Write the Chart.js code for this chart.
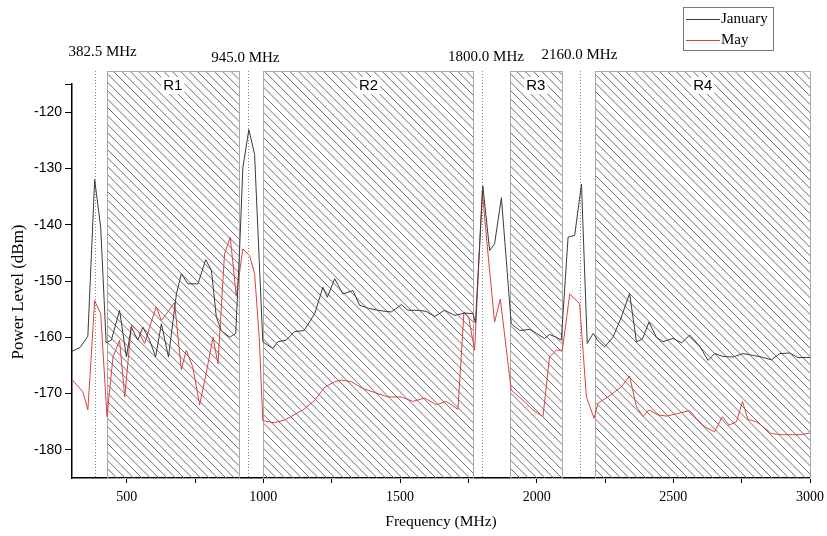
<!DOCTYPE html>
<html>
<head>
<meta charset="utf-8">
<script src="https://cdn.jsdelivr.net/npm/chart.js@4.4.1/dist/chart.umd.min.js"></script>
<style>
  html, body { margin: 0; padding: 0; background: #fff; }
  #wrap { width: 827px; height: 536px; }
</style>
</head>
<body>
<div id="wrap"><canvas id="c" width="827" height="536"></canvas></div>
<script>
// ---------- data ----------
const seriesNames = ['January', 'May'];

const janFreq = [300, 330, 358, 383, 405, 425, 444, 474, 499, 517, 541, 559, 584, 606, 627, 653, 682, 700, 724, 761, 789, 810, 828, 846, 877, 899, 913, 925, 947, 968, 998,
  1035, 1053, 1084, 1114, 1149, 1188, 1218, 1234, 1261, 1291, 1328, 1352, 1389, 1432, 1468, 1505, 1529, 1566, 1596, 1627, 1663, 1700, 1737, 1767, 1776,
  1803, 1828, 1846, 1871, 1907, 1938, 1975, 1999, 2029, 2047, 2072, 2090, 2115, 2139, 2164, 2185, 2207, 2224, 2249, 2279, 2310, 2340, 2365, 2387, 2411,
  2438, 2462, 2499, 2530, 2560, 2597, 2627, 2651, 2682, 2718, 2755, 2791, 2822, 2859, 2889, 2926, 2956, 3000];
const janLevel = [-162.5, -161.8, -159.8, -132, -140.5, -161, -160.5, -155.2, -163.5, -158.2, -160.5, -158.2, -160.5, -163.5, -157.6, -163.5, -152.3, -148.7, -150.5, -150.5, -146.2, -148.1, -156.4, -158.8, -160, -159.3, -144.6, -129.9, -123.1, -127.5, -160.8,
  -162, -160.8, -160.5, -159, -158.8, -155.8, -151.1, -152.9, -149.6, -152.3, -151.7, -154.3, -154.9, -155.3, -155.5, -154.2, -155.2, -155.2, -155.4, -156.3, -155.2, -156.1, -155.7, -155.8, -157.5,
  -133.1, -144.6, -143.4, -135.2, -157.6, -158.8, -158.6, -159.3, -160.2, -159.5, -160, -160.5, -142.2, -141.9, -132.8, -161.1, -159.3, -160.6, -161.7, -160, -156.4, -152.2, -160.8, -160.3, -157.3,
  -160, -160.8, -160.2, -161, -159.6, -161.6, -164.1, -162.9, -163.4, -163.5, -162.9, -163.2, -163.5, -164, -162.9, -162.8, -163.6, -163.6];

const mayFreq = [300, 340, 358, 383, 405, 428, 450, 474, 493, 517, 541, 566, 584, 608, 627, 655, 675, 700, 718, 742, 767, 791, 816, 834, 858, 879, 901, 925, 950, 968, 985, 998,
  1040, 1078, 1145, 1188, 1224, 1261, 1285, 1322, 1364, 1413, 1456, 1505, 1547, 1590, 1633, 1669, 1712, 1734, 1751, 1773,
  1801, 1822, 1846, 1867, 1907, 1950, 1986, 2023, 2047, 2072, 2094, 2121, 2157, 2182, 2210, 2224, 2261, 2285, 2310, 2340, 2365, 2389, 2411, 2444, 2475,
  2511, 2560, 2584, 2615, 2651, 2679, 2704, 2731, 2753, 2773, 2804, 2828, 2859, 2895, 2938, 2969, 3000];
const mayLevel = [-167.5, -169.7, -172.9, -153.5, -155.8, -174.1, -163.5, -160.5, -170.6, -157.9, -158.8, -161.1, -158.2, -154.6, -157, -155.2, -153.8, -165.8, -162.3, -165.3, -172, -166.4, -160, -164.7, -145.2, -142.2, -152.7, -144.3, -145.5, -148.7, -160, -174.8,
  -175.2, -174.7, -172.9, -171.2, -168.9, -167.9, -167.6, -167.9, -169.1, -169.9, -170.6, -170.6, -171.4, -170.8, -172, -171.4, -172.8, -155.5, -156.4, -162.3,
  -134, -145.2, -157.3, -153.2, -169.4, -171.2, -172.9, -174.1, -163.5, -162.3, -162.3, -152.3, -154, -170.6, -174.4, -171.7, -170.6, -169.7, -168.8, -166.9, -172.3, -174.1, -172.9, -173.8, -174,
  -173.6, -173, -174.4, -175.9, -176.8, -174.1, -175.6, -175, -171.4, -174.6, -175, -175.9, -177.1, -177.3, -177.3, -177.3, -177];

const regionLabels = ['R1', 'R2', 'R3', 'R4'];
const regionStart = [428, 1000, 1902, 2215];
const regionEnd = [910, 1770, 2092, 3000];

const markerFreq = [382.5, 945.0, 1800.0, 2160.0];
const markerLabels = ['382.5 MHz', '945.0 MHz', '1800.0 MHz', '2160.0 MHz'];

const xTicks = [500, 750, 1000, 1250, 1500, 1750, 2000, 2250, 2500, 2750, 3000];
const yTicks = [-180, -170, -160, -150, -140, -130, -120, -115];

const xTitle = 'Frequency (MHz)';
const yTitle = 'Power Level (dBm)';

// ---------- style ----------
const SERIF = '"Liberation Serif", "Times New Roman", serif';
const SANS = '"Liberation Sans", Arial, sans-serif';
const janColor = '#3a3a3a';
const mayColor = '#d94242';
const markerLabelDx = [8, -3, 4, -1];
const markerLabelDy = [-32, -26, -27, -29];

function pts(xs, ys) { return xs.map((x, i) => ({ x: x, y: ys[i] })); }

const overlayPlugin = {
  id: 'overlay',
  beforeDatasetsDraw(chart) {
    const ctx = chart.ctx;
    const xs = chart.scales.x;
    const ca = chart.chartArea;
    const top = ca.top - 13;
    const bottom = ca.bottom;
    const sp = 8.4;
    ctx.save();
    regionStart.forEach((s, i) => {
      const xl = xs.getPixelForValue(s);
      const xr = xs.getPixelForValue(regionEnd[i]);
      ctx.save();
      ctx.beginPath();
      ctx.rect(xl, top, xr - xl, bottom - top);
      ctx.clip();
      ctx.strokeStyle = '#6e6e6e';
      ctx.lineWidth = 1;
      ctx.beginPath();
      const h = bottom - top;
      const k0 = Math.floor((xl - top - h) / sp) * sp;
      for (let k = k0; k < xr - top + sp; k += sp) {
        ctx.moveTo(k + top, top);
        ctx.lineTo(k + bottom, bottom);
      }
      ctx.stroke();
      ctx.restore();
      ctx.strokeStyle = '#a8a8a8';
      ctx.lineWidth = 1;
      ctx.strokeRect(Math.round(xl) + 0.5, Math.round(top) + 0.5, Math.round(xr - xl), Math.round(bottom - top));
      ctx.fillStyle = '#ffffff';
      const cx = (xl + xr) / 2;
      ctx.font = '15px ' + SANS;
      const tw = ctx.measureText(regionLabels[i]).width;
      ctx.fillRect(cx - tw / 2 - 2, top + 6, tw + 4, 17);
      ctx.fillStyle = '#000';
      ctx.textAlign = 'center';
      ctx.textBaseline = 'middle';
      ctx.fillText(regionLabels[i], cx, top + 15);
    });
    ctx.strokeStyle = '#8a8a8a';
    ctx.lineWidth = 1;
    ctx.setLineDash([1, 2]);
    markerFreq.forEach((f) => {
      const x = Math.round(xs.getPixelForValue(f)) + 0.5;
      ctx.beginPath();
      ctx.moveTo(x, top);
      ctx.lineTo(x, bottom);
      ctx.stroke();
    });
    ctx.setLineDash([]);
    ctx.fillStyle = '#000';
    ctx.font = '15px ' + SERIF;
    ctx.textAlign = 'center';
    ctx.textBaseline = 'middle';
    markerFreq.forEach((f, i) => {
      const x = xs.getPixelForValue(f);
      ctx.fillText(markerLabels[i], x + markerLabelDx[i], ca.top + markerLabelDy[i]);
    });
    // y axis title
    ctx.save();
    ctx.translate(19, (ca.top + ca.bottom) / 2 + 11);
    ctx.rotate(-Math.PI / 2);
    ctx.font = '17px ' + SERIF;
    ctx.fillText(yTitle, 0, 0);
    ctx.restore();
    ctx.restore();
  },
  afterDraw(chart) {
    const ctx = chart.ctx;
    ctx.save();
    const bx = 683, by = 7, bw = 90, bh = 43;
    ctx.fillStyle = '#fff';
    ctx.fillRect(bx, by, bw, bh);
    ctx.strokeStyle = '#777';
    ctx.lineWidth = 1;
    ctx.strokeRect(bx + 0.5, by + 0.5, bw, bh);
    const colors = [janColor, mayColor];
    ctx.font = '15px ' + SERIF;
    ctx.textAlign = 'left';
    ctx.textBaseline = 'middle';
    seriesNames.forEach((n, i) => {
      const y = by + 12 + i * 21;
      ctx.strokeStyle = colors[i];
      ctx.beginPath();
      ctx.moveTo(bx + 3, y + 0.5);
      ctx.lineTo(bx + 37, y + 0.5);
      ctx.stroke();
      ctx.fillStyle = '#000';
      ctx.fillText(n, bx + 38, y);
    });
    ctx.restore();
  }
};

new Chart(document.getElementById('c'), {
  type: 'line',
  data: {
    datasets: [
      { label: seriesNames[0], data: pts(janFreq, janLevel), borderColor: janColor, borderWidth: 1, pointRadius: 0, tension: 0, fill: false },
      { label: seriesNames[1], data: pts(mayFreq, mayLevel), borderColor: mayColor, borderWidth: 1, pointRadius: 0, tension: 0, fill: false }
    ]
  },
  options: {
    responsive: false,
    animation: false,
    events: [],
    layout: { padding: { top: 84, right: 17, bottom: 0, left: 0 } },
    plugins: { legend: { display: false }, tooltip: { enabled: false }, title: { display: false } },
    scales: {
      x: {
        type: 'linear', min: 300, max: 3000,
        afterFit: s => { s.height = 58; s.paddingRight = 0; s.paddingLeft = 0; },
        afterBuildTicks: s => { s.ticks = xTicks.map(v => ({ value: v })); },
        grid: { drawOnChartArea: false, drawTicks: true, tickLength: 5, tickColor: '#000', tickWidth: 1 },
        border: { display: true, color: '#000', width: 1.5 },
        ticks: { color: '#000', padding: 6, maxRotation: 0, autoSkip: false, font: { family: SERIF, size: 14 },
          callback: v => (v % 500 === 0 ? String(v) : '') },
        title: { display: true, text: xTitle, color: '#000', font: { family: SERIF, size: 15.5 }, padding: { top: 4, bottom: 5 } }
      },
      y: {
        type: 'linear', min: -185, max: -115,
        afterFit: s => { s.width = 72; },
        afterBuildTicks: s => { s.ticks = yTicks.map(v => ({ value: v })); },
        grid: { drawOnChartArea: false, drawTicks: true, tickLength: 7, tickColor: '#000', tickWidth: 1 },
        border: { display: true, color: '#000', width: 1.5 },
        ticks: { color: '#000', padding: 3, autoSkip: false, font: { family: SANS, size: 14 },
          callback: v => (v % 10 === 0 ? String(v) : '') },
        title: { display: false, text: yTitle }
      }
    }
  },
  plugins: [overlayPlugin]
});
</script>
</body>
</html>
